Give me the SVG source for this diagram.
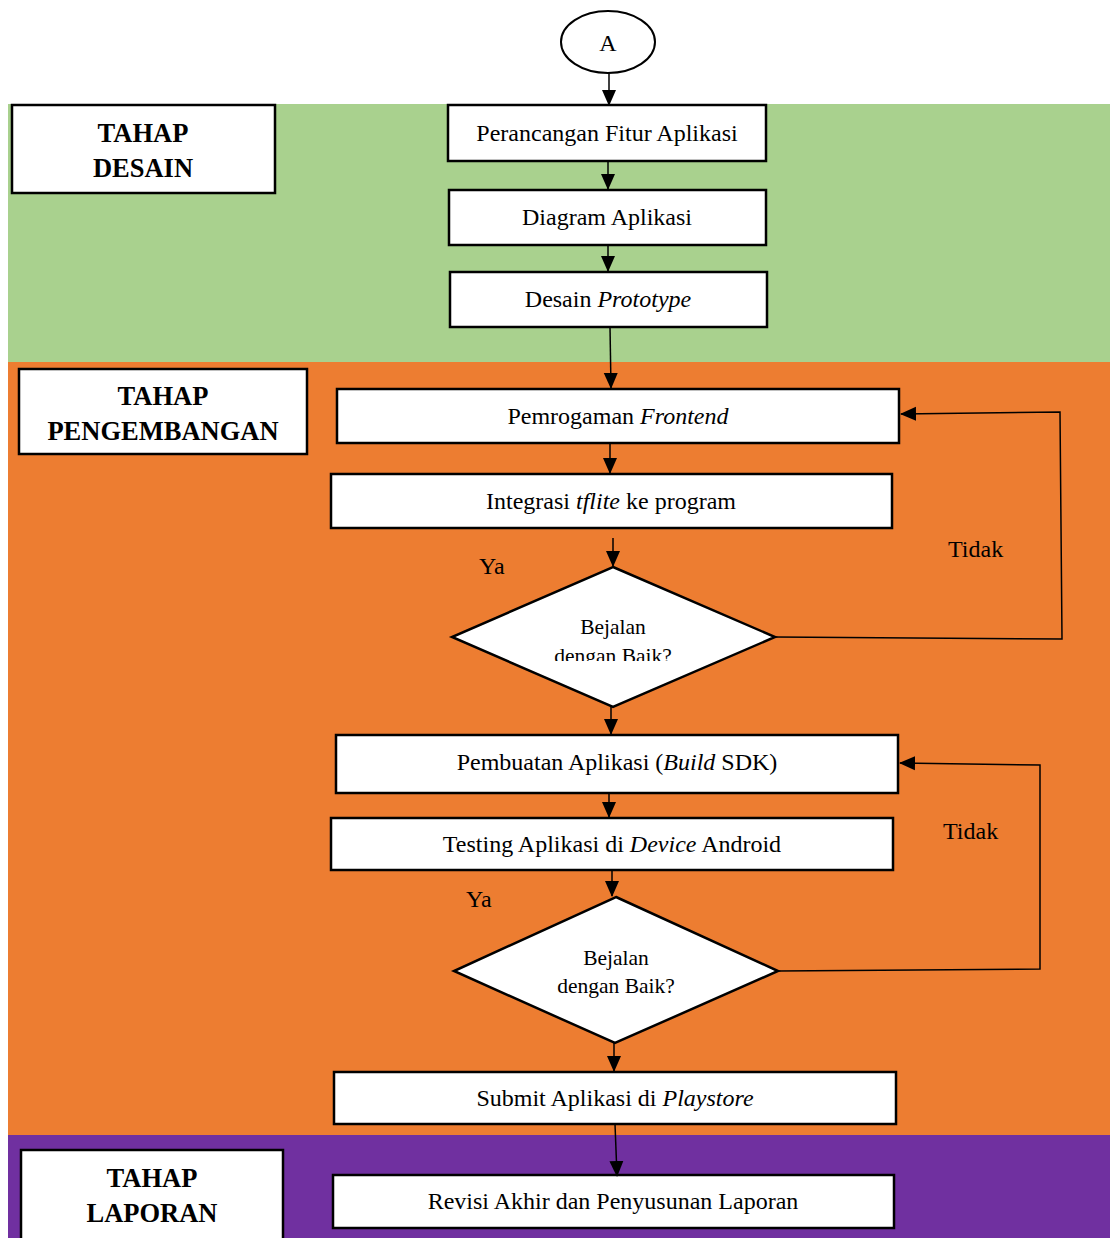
<svg xmlns="http://www.w3.org/2000/svg" width="1110" height="1238" viewBox="0 0 1110 1238">
<defs>
<marker id="ahb" markerWidth="16" markerHeight="16" refX="15" refY="8" orient="auto" markerUnits="userSpaceOnUse" viewBox="0 0 16 16">
<path d="M0,1 L16,8 L0,15 z" fill="#000"/>
</marker>
<clipPath id="clipd1"><rect x="440" y="560" width="350" height="101"/></clipPath>
</defs>
<style>
.box{fill:#fff;stroke:#000;stroke-width:2.5}
.t{font-family:"Liberation Serif","Times New Roman",serif;font-size:24px;fill:#000;text-anchor:middle}
.h{font-family:"Liberation Serif","Times New Roman",serif;font-size:26.5px;font-weight:bold;fill:#000;text-anchor:middle}
.d{font-family:"Liberation Serif","Times New Roman",serif;font-size:21.5px;fill:#000;text-anchor:middle}
.l{font-family:"Liberation Serif","Times New Roman",serif;font-size:24px;fill:#000}
.c{fill:none;stroke:#000;stroke-width:1.5}
</style>
<rect x="0" y="0" width="1110" height="1238" fill="#fff"/>
<rect x="8" y="104" width="1102" height="258" fill="#a9d18e"/>
<rect x="8" y="362" width="1102" height="773" fill="#ed7d31"/>
<rect x="8" y="1135" width="1102" height="103" fill="#7030a0"/>

<g id="start"><ellipse cx="608" cy="42" rx="47" ry="31" fill="#fff" stroke="#000" stroke-width="2"/><text class="t" x="608" y="51">A</text></g>

<g id="lbl-desain"><rect class="box" x="12" y="105" width="263" height="88"/><text class="h" x="143" y="142">TAHAP</text><text class="h" x="143" y="177">DESAIN</text></g>
<g id="n1"><rect class="box" x="448" y="105" width="318" height="56"/><text class="t" x="607" y="141">Perancangan Fitur Aplikasi</text></g>
<g id="n2"><rect class="box" x="449" y="190" width="317" height="55"/><text class="t" x="607" y="225">Diagram Aplikasi</text></g>
<g id="n3"><rect class="box" x="450" y="272" width="317" height="55"/><text class="t" x="608" y="307">Desain <tspan font-style="italic">Prototype</tspan></text></g>

<g id="lbl-pengembangan"><rect class="box" x="19" y="369" width="288" height="85"/><text class="h" x="163" y="405">TAHAP</text><text class="h" x="163" y="440">PENGEMBANGAN</text></g>
<g id="n4"><rect class="box" x="337" y="389" width="562" height="54"/><text class="t" x="618" y="424">Pemrogaman <tspan font-style="italic">Frontend</tspan></text></g>
<g id="n5"><rect class="box" x="331" y="474" width="561" height="54"/><text class="t" x="611" y="509">Integrasi <tspan font-style="italic">tflite</tspan> ke program</text></g>
<g id="d1"><polygon points="613,567 775,637 613,707 452,637" fill="#fff" stroke="#000" stroke-width="2.5"/><g clip-path="url(#clipd1)"><text class="d" x="613" y="634">Bejalan</text><text class="d" x="613" y="663">dengan Baik?</text></g></g>
<g id="n6"><rect class="box" x="336" y="735" width="562" height="58"/><text class="t" x="617" y="770">Pembuatan Aplikasi (<tspan font-style="italic">Build</tspan> SDK)</text></g>
<g id="n7"><rect class="box" x="331" y="818" width="562" height="52"/><text class="t" x="612" y="852">Testing Aplikasi di <tspan font-style="italic">Device</tspan> Android</text></g>
<g id="d2"><polygon points="616,897 778,971 615,1043 454,971" fill="#fff" stroke="#000" stroke-width="2.5"/><text class="d" x="616" y="965">Bejalan</text><text class="d" x="616" y="993">dengan Baik?</text></g>
<g id="n8"><rect class="box" x="334" y="1072" width="562" height="52"/><text class="t" x="615" y="1106">Submit Aplikasi di <tspan font-style="italic">Playstore</tspan></text></g>

<g id="lbl-laporan"><rect class="box" x="21" y="1150" width="262" height="92"/><text class="h" x="152" y="1187">TAHAP</text><text class="h" x="152" y="1222">LAPORAN</text></g>
<g id="n9"><rect class="box" x="333" y="1175" width="561" height="53"/><text class="t" x="613" y="1209">Revisi Akhir dan Penyusunan Laporan</text></g>

<g id="connectors">
<line class="c" x1="609" y1="73" x2="609" y2="105" marker-end="url(#ahb)"/>
<line class="c" x1="608" y1="161" x2="608" y2="189" marker-end="url(#ahb)"/>
<line class="c" x1="608" y1="245" x2="608" y2="271" marker-end="url(#ahb)"/>
<line class="c" x1="610" y1="327" x2="611" y2="388" marker-end="url(#ahb)"/>
<line class="c" x1="610" y1="443" x2="610" y2="473" marker-end="url(#ahb)"/>
<line class="c" x1="613" y1="538" x2="613" y2="566" marker-end="url(#ahb)"/>
<line class="c" x1="611" y1="707" x2="611" y2="734" marker-end="url(#ahb)"/>
<line class="c" x1="609" y1="793" x2="609" y2="817" marker-end="url(#ahb)"/>
<line class="c" x1="612" y1="870" x2="612" y2="896" marker-end="url(#ahb)"/>
<line class="c" x1="614" y1="1043" x2="614" y2="1071" marker-end="url(#ahb)"/>
<line class="c" x1="615" y1="1124" x2="617" y2="1176" marker-end="url(#ahb)"/>
<polyline class="c" points="775,637 1062,639 1060,412 901,414" marker-end="url(#ahb)"/>
<polyline class="c" points="778,971 1040,969 1040,765 900,763" marker-end="url(#ahb)"/>
</g>
<g id="labels">
<text class="l" x="948" y="557">Tidak</text>
<text class="l" x="943" y="839">Tidak</text>
<text class="l" x="479" y="574">Ya</text>
<text class="l" x="466" y="907">Ya</text>
</g>
</svg>
